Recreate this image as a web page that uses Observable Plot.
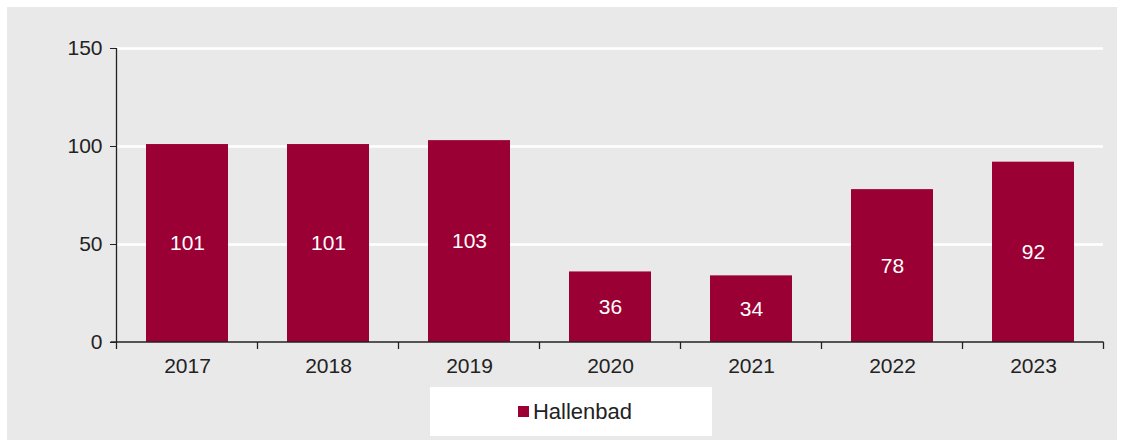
<!DOCTYPE html>
<html>
<head>
<meta charset="utf-8">
<script src="https://cdn.jsdelivr.net/npm/d3@7"></script>
<script src="https://cdn.jsdelivr.net/npm/@observablehq/plot@0.6"></script>
<style>
  html, body { margin: 0; padding: 0; background: #ffffff; }
  #frame { position: absolute; left: 7px; top: 7px; width: 1110px; height: 433px; background: #e9e9e9; }
  #chart { position: absolute; left: 0; top: 0; }
  #legend { position: absolute; left: 423px; top: 380px; width: 282px; height: 49px; background: #ffffff;
            display: flex; align-items: center; justify-content: center;
            font-family: "Liberation Sans", Arial, sans-serif; font-size: 22px; color: #222; }
  #legend .sw { width: 11px; height: 11px; background: #9b0034; margin-right: 4px; margin-left: 8px; }
</style>
</head>
<body>
<div id="frame">
  <div id="chart"></div>
  <div id="legend"><span class="sw"></span><span>Hallenbad</span></div>
</div>
<script>
const years = ["2017", "2018", "2019", "2020", "2021", "2022", "2023"];
const hallenbad = [101, 101, 103, 36, 34, 78, 92];
const yTicks = [0, 50, 100, 150];
const seriesName = "Hallenbad";
const barColor = "#9b0034";

const data = years.map((y, i) => ({year: y, value: hallenbad[i]}));

const W = 1110, H = 372;
const mL = 109, mR = 14, mT = 41, mB = 37;
const step = (W - mL - mR) / years.length;

const chart = Plot.plot({
  width: W,
  height: H,
  marginLeft: mL,
  marginRight: mR,
  marginTop: mT,
  marginBottom: mB,
  style: {background: "transparent", fontFamily: "'Liberation Sans', Arial, sans-serif", fontSize: "21px", color: "#222"},
  x: {domain: years, paddingInner: 0.42, paddingOuter: 0.21, label: null},
  y: {domain: [0, 150], label: null},
  marks: [
    Plot.ruleY(yTicks.filter(d => d > 0), {stroke: "#ffffff", strokeWidth: 2.5}),
    Plot.barY(data, {x: "year", y: "value", fill: barColor}),
    Plot.text(data, {x: "year", y: d => d.value / 2, text: d => String(d.value), fill: "#ffffff", fontSize: 21}),
    Plot.axisY({ticks: yTicks, tickSize: 6, tickPadding: 8, stroke: "#222", fill: "#222", fontSize: 21}),
    Plot.axisX({tickSize: 0, tickPadding: 16, fill: "#222", fontSize: 21}),
  ]
});
document.getElementById("chart").appendChild(chart);

// boundary ticks and axis lines, positioned through the plot's own scales
const xs = chart.scale("x"), ys = chart.scale("y");
const svg = d3.select(chart);
const y0 = ys.apply(0);
const gap = (step - xs.bandwidth) / 2;
const bounds = years.map(y => xs.apply(y) - gap).concat([xs.apply(years[years.length-1]) + xs.bandwidth + gap]);
svg.append("g").selectAll("line").data(bounds).join("line")
  .attr("x1", d => d).attr("x2", d => d).attr("y1", y0).attr("y2", y0 + 7)
  .attr("stroke", "#222").attr("stroke-width", 1.3);
svg.append("line").attr("x1", bounds[0]).attr("x2", bounds[0]).attr("y1", ys.apply(150)).attr("y2", y0)
  .attr("stroke", "#222").attr("stroke-width", 1.3);
svg.append("line").attr("x1", bounds[0] - 6).attr("x2", bounds[bounds.length-1]).attr("y1", y0).attr("y2", y0)
  .attr("stroke", "#222").attr("stroke-width", 1.3);
</script>
</body>
</html>
